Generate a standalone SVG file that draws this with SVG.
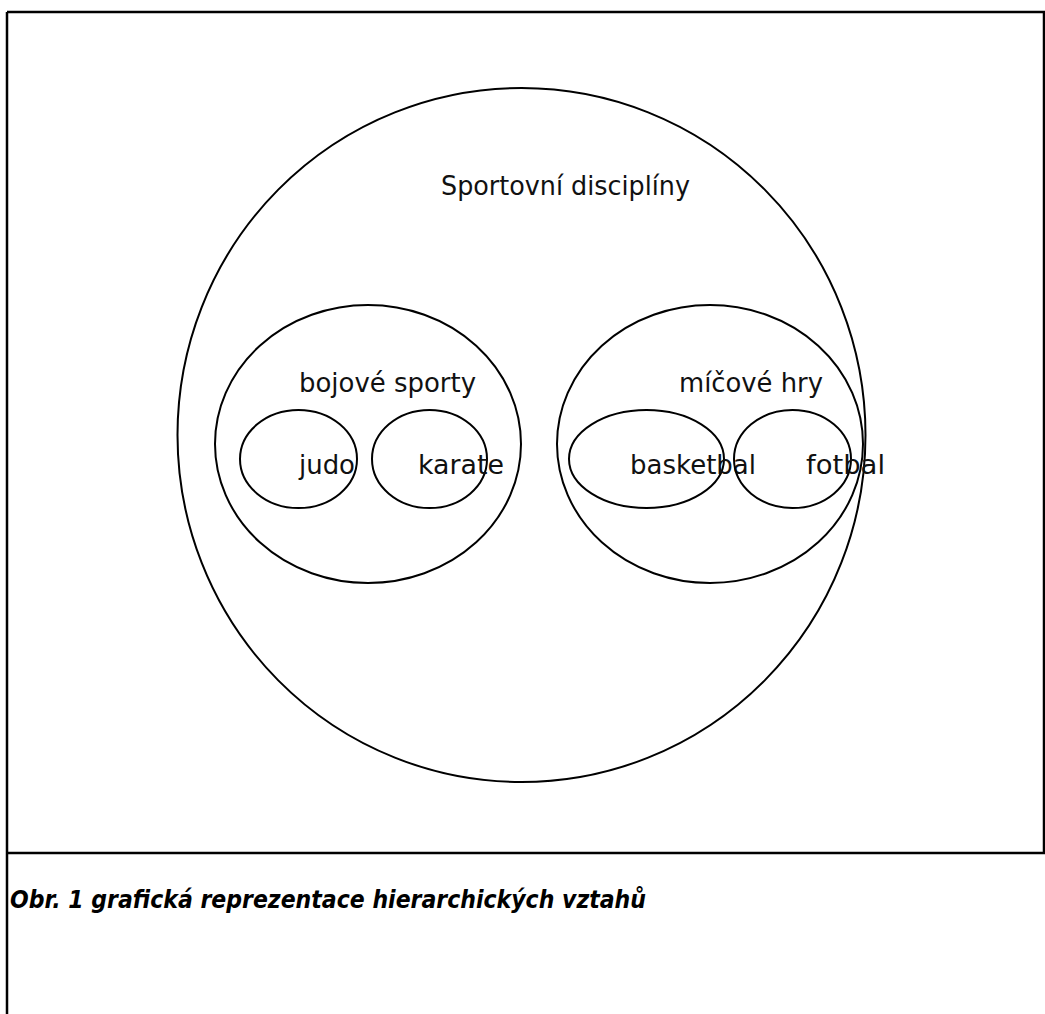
<svg xmlns="http://www.w3.org/2000/svg" width="1045" height="1014" viewBox="0 0 1045 1014">
<style>
.sh{fill:none;stroke:#000;stroke-width:2}
.fr{fill:none;stroke:#000;stroke-width:2.5}
.t{font-family:"DejaVu Sans","Liberation Sans",sans-serif;font-size:26px;fill:#111}
.cap{font-family:"DejaVu Sans","Liberation Sans",sans-serif;font-size:24px;font-style:italic;font-weight:bold;fill:#000}
</style>
<rect width="1045" height="1014" fill="#fff"/>
<g id="frame">
<line class="fr" x1="7" y1="12" x2="1045" y2="12"/>
<line class="fr" x1="7" y1="12" x2="7" y2="1014"/>
<line class="fr" x1="1044" y1="12" x2="1044" y2="853"/>
<line class="fr" x1="7" y1="853" x2="1045" y2="853"/>
</g>
<g id="sportovni">
<ellipse class="sh" cx="521.5" cy="435" rx="344" ry="347"/>
<text class="t" x="441" y="195" textLength="249" lengthAdjust="spacingAndGlyphs">Sportovní disciplíny</text>
</g>
<g id="bojove">
<ellipse class="sh" cx="368" cy="444" rx="153" ry="139"/>
<text class="t" x="299" y="392" textLength="177" lengthAdjust="spacingAndGlyphs">bojové sporty</text>
</g>
<g id="micove">
<ellipse class="sh" cx="710" cy="444" rx="153" ry="139"/>
<text class="t" x="679" y="392" textLength="144" lengthAdjust="spacingAndGlyphs">míčové hry</text>
</g>
<g id="judo">
<ellipse class="sh" cx="298.5" cy="459" rx="58.5" ry="49"/>
<text class="t" x="299" y="474" textLength="56" lengthAdjust="spacingAndGlyphs">judo</text>
</g>
<g id="karate">
<ellipse class="sh" cx="429.5" cy="459" rx="57.5" ry="49"/>
<text class="t" x="418" y="474" textLength="86" lengthAdjust="spacingAndGlyphs">karate</text>
</g>
<g id="basketbal">
<ellipse class="sh" cx="646.5" cy="459" rx="77.5" ry="49"/>
<text class="t" x="630" y="474" textLength="126" lengthAdjust="spacingAndGlyphs">basketbal</text>
</g>
<g id="fotbal">
<ellipse class="sh" cx="792.5" cy="459" rx="58.5" ry="49"/>
<text class="t" x="806" y="474" textLength="79" lengthAdjust="spacingAndGlyphs">fotbal</text>
</g>
<g id="connectors"></g>
<g id="caption">
<text class="cap" x="10" y="908" textLength="636" lengthAdjust="spacingAndGlyphs">Obr. 1 grafická reprezentace hierarchických vztahů</text>
</g>
</svg>
